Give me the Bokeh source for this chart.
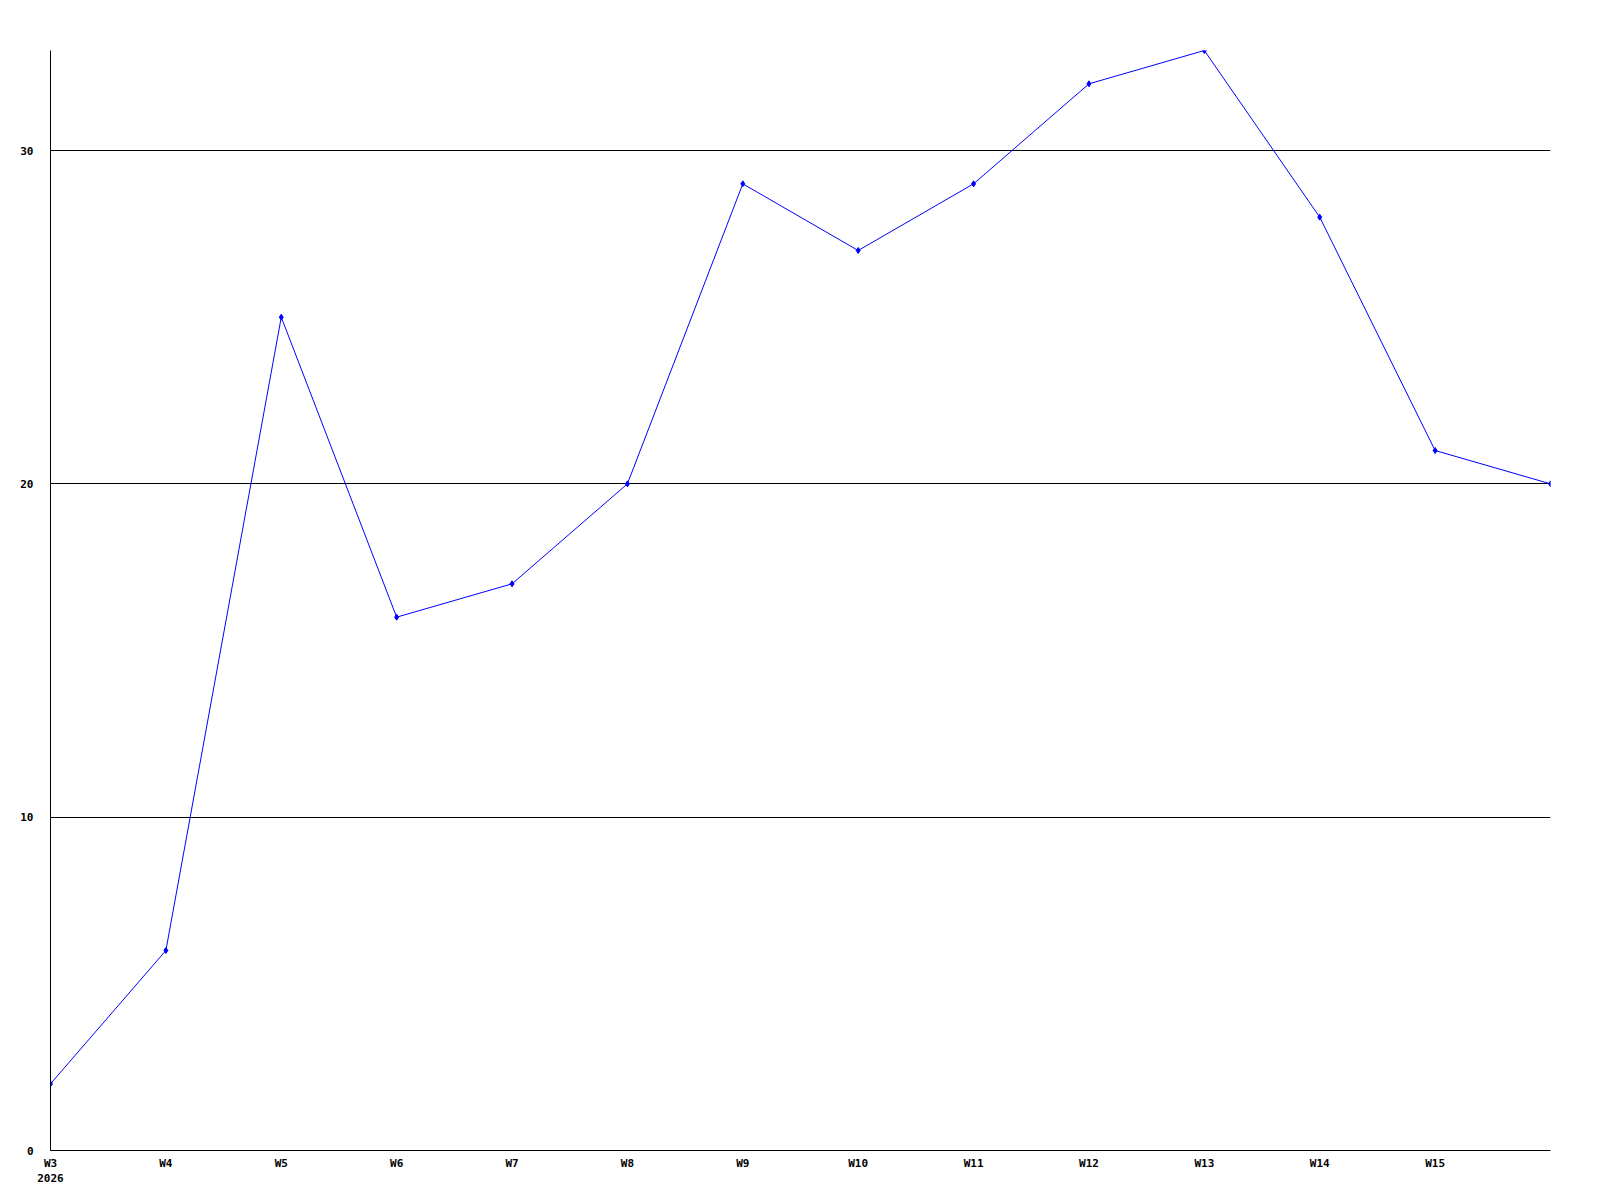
from bokeh.plotting import figure
from bokeh.models import Range1d, FixedTicker
from bokeh.embed import file_html
from bokeh.resources import INLINE

weeks = ["W3", "W4", "W5", "W6", "W7", "W8", "W9", "W10", "W11", "W12", "W13", "W14", "W15", "W16"]
values = [2, 6, 25, 16, 17, 20, 29, 27, 29, 32, 33, 28, 21, 20]
tick_labels = weeks[:-1]
year_label = "2026"
y_ticks = [0, 10, 20, 30]

FONT = "DejaVu Sans Mono"

xs = list(range(len(weeks)))

p = figure(frame_width=1500, frame_height=1100, output_backend="svg", toolbar_location=None,
           x_range=Range1d(0, len(weeks) - 1), y_range=Range1d(0, 33),
           min_border_left=50, min_border_right=34, min_border_top=50, min_border_bottom=34)
p.outline_line_color = None
p.background_fill_color = "white"
p.border_fill_color = "white"

# x axis
overrides = {}
for i, lab in enumerate(tick_labels):
    overrides[i] = lab
overrides[0] = tick_labels[0] + "\n" + year_label
p.xaxis.ticker = FixedTicker(ticks=list(range(len(tick_labels))))
p.xaxis.major_label_overrides = overrides
p.xaxis.axis_line_color = "black"
p.xaxis.axis_line_width = 1
p.xaxis.major_tick_line_color = None
p.xaxis.minor_tick_line_color = None
p.xaxis.major_tick_out = 0
p.xaxis.major_tick_in = 0
p.xaxis.major_label_standoff = 6
p.xaxis.major_label_text_font = FONT
p.xaxis.major_label_text_font_style = "bold"
p.xaxis.major_label_text_font_size = "11px"
p.xaxis.major_label_text_color = "black"
p.xgrid.visible = False

# y axis
p.yaxis.ticker = FixedTicker(ticks=y_ticks)
p.yaxis.axis_line_color = "black"
p.yaxis.major_tick_line_color = None
p.yaxis.minor_tick_line_color = None
p.yaxis.major_tick_out = 0
p.yaxis.major_tick_in = 0
p.yaxis.major_label_standoff = 17
p.yaxis.major_label_text_font = FONT
p.yaxis.major_label_text_font_style = "bold"
p.yaxis.major_label_text_font_size = "11px"
p.yaxis.major_label_text_color = "black"

p.ygrid.ticker = FixedTicker(ticks=y_ticks[1:])
p.ygrid.grid_line_color = "black"
p.ygrid.grid_line_width = 1

p.line(xs, values, line_color="#0000ff", line_width=1)
p.scatter(xs, values, marker="diamond", size=6, color="#0000ff")

open("out.html", "w").write(file_html(p, INLINE))
